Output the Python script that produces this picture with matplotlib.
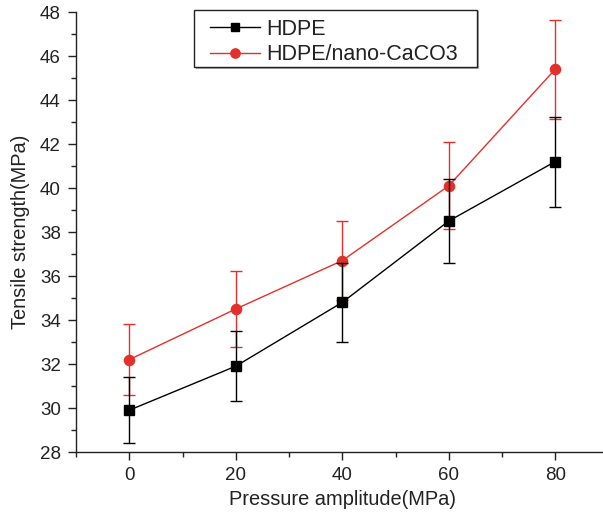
import matplotlib
matplotlib.use("Agg")
import matplotlib.pyplot as plt
from matplotlib.ticker import MultipleLocator
from matplotlib.lines import Line2D
from matplotlib.patches import Rectangle
from matplotlib.legend_handler import HandlerLine2D

plt.rcParams['font.family'] = ['Liberation Sans', 'DejaVu Sans']

pressure = [0, 20, 40, 60, 80]
hdpe = [29.9, 31.9, 34.8, 38.5, 41.2]
hdpe_err = [1.5, 1.6, 1.8, 1.92, 2.05]
nano = [32.2, 34.5, 36.7, 40.1, 45.4]
nano_err = [1.6, 1.72, 1.8, 1.98, 2.25]

black = '#000000'
red = '#e2312a'
axcol = '#222222'

W, H = 603, 514
fig = plt.figure(figsize=(W/100, H/100), dpi=100)
ax = fig.add_axes([76/W, 62/H, 532.5/W, 440/H])

ax.errorbar(pressure, nano, yerr=nano_err, color=red, lw=1.0, marker='o',
            ms=7.3, mfc=red, mec=red, capsize=4, capthick=1.0, elinewidth=1.0,
            zorder=2)
ax.errorbar(pressure, hdpe, yerr=hdpe_err, color=black, lw=1.0, marker='s',
            ms=6.6, mfc=black, mec=black, capsize=4, capthick=1.0, elinewidth=1.0,
            zorder=3)

ax.set_xlim(-10, 90)
ax.set_ylim(28, 48)
ax.xaxis.set_major_locator(MultipleLocator(20))
ax.xaxis.set_minor_locator(MultipleLocator(10))
ax.yaxis.set_major_locator(MultipleLocator(2))
ax.yaxis.set_minor_locator(MultipleLocator(1))

for s in ['top', 'right']:
    ax.spines[s].set_visible(False)
for s in ['left', 'bottom']:
    ax.spines[s].set_linewidth(1.0)
    ax.spines[s].set_color(axcol)

ax.tick_params(which='major', direction='out', length=6, width=1.0, labelsize=13.5, pad=5, colors=axcol)
ax.tick_params(which='minor', direction='out', length=3.5, width=1.0, colors=axcol)

ax.set_xlabel('Pressure amplitude(MPa)', fontsize=14.4, labelpad=4, color=axcol)
ax.set_ylabel('Tensile strength(MPa)', fontsize=14.4, labelpad=7, color=axcol)

# legend frame with shadow (drawn manually)
lx0, ly0, lx1, ly1 = 194, 10, 477, 67
fig.patches.append(Rectangle(((lx0 + 1.5)/W, 1 - (ly1 + 1.5)/H), (lx1 - lx0)/W, (ly1 - ly0)/H,
                             transform=fig.transFigure, facecolor='#9a9a9a',
                             edgecolor='none', alpha=0.8, zorder=5))
fig.patches.append(Rectangle((lx0/W, 1 - ly1/H), (lx1 - lx0)/W, (ly1 - ly0)/H,
                             transform=fig.transFigure, facecolor='white',
                             edgecolor=axcol, lw=1.0, zorder=6))

handles = [
    Line2D([], [], color=black, lw=1.0, marker='s', ms=5.5, mfc=black, mec=black),
    Line2D([], [], color=red, lw=1.0, marker='o', ms=6.7, mfc=red, mec=red),
]
labels = ['HDPE', 'HDPE/nano-CaCO3']
fs = 15.5
leg = fig.legend(handles, labels, loc='upper left',
                 bbox_to_anchor=(lx0/W, 1 - (ly0 + 4.5)/H), bbox_transform=fig.transFigure,
                 fontsize=fs, frameon=False,
                 handlelength=2.85, handletextpad=0.3,
                 borderpad=0.2, labelspacing=0.2, borderaxespad=0,
                 handler_map={Line2D: HandlerLine2D(xpad=0.55)})
leg.set_zorder(7)
for t in leg.get_texts():
    t.set_color(axcol)

fig.savefig('out.png', dpi=100)
